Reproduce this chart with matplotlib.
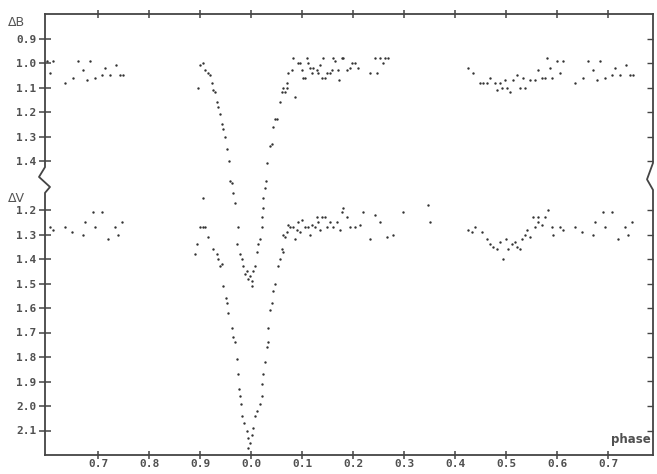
import numpy as np
import matplotlib
matplotlib.use("Agg")
import matplotlib.pyplot as plt

# light curve, phase in [0, 1)
b_phase = [0.425, 0.435, 0.449, 0.455, 0.463, 0.469, 0.478, 0.482, 0.488, 0.492,
           0.498, 0.502, 0.508, 0.514, 0.522, 0.527, 0.533, 0.537, 0.547, 0.557,
           0.563, 0.571, 0.576, 0.580, 0.586, 0.590, 0.600, 0.606, 0.612, 0.635,
           0.651, 0.661, 0.671, 0.678, 0.684, 0.694, 0.708, 0.714, 0.724, 0.735,
           0.743, 0.749,
           0.896, 0.900, 0.906, 0.910, 0.916, 0.920, 0.924, 0.925, 0.929, 0.933,
           0.935, 0.939, 0.943, 0.945, 0.949, 0.953, 0.957, 0.959, 0.963, 0.965,
           0.969, 0.973, 0.975, 0.978, 0.982, 0.984, 0.988, 0.992, 0.994, 0.998,
           0.002, 0.002, 0.004, 0.008, 0.012, 0.014, 0.018, 0.022, 0.022, 0.024,
           0.024, 0.027, 0.029, 0.031, 0.037, 0.041, 0.043, 0.047, 0.051, 0.057,
           0.061, 0.063, 0.067, 0.071, 0.071, 0.073, 0.080, 0.082, 0.086,
           0.092, 0.096, 0.100, 0.102, 0.106, 0.110, 0.112, 0.116, 0.120, 0.122,
           0.129, 0.131, 0.135, 0.139, 0.141, 0.145, 0.149, 0.155, 0.159, 0.161,
           0.165, 0.171, 0.173, 0.178, 0.180, 0.188, 0.194, 0.198, 0.204, 0.210,
           0.233, 0.243, 0.247, 0.253, 0.259, 0.263, 0.269]
b_mag = [1.02, 1.04, 1.08, 1.08, 1.08, 1.06, 1.08, 1.11, 1.08, 1.10,
         1.07, 1.10, 1.12, 1.07, 1.05, 1.10, 1.06, 1.10, 1.07, 1.07,
         1.03, 1.06, 1.06, 0.98, 1.02, 1.06, 0.99, 1.04, 0.99, 1.08,
         1.06, 0.99, 1.03, 1.07, 0.99, 1.06, 1.05, 1.02, 1.05, 1.01,
         1.05, 1.05,
         1.10, 1.01, 1.00, 1.03, 1.04, 1.05, 1.08, 1.11, 1.12, 1.16,
         1.18, 1.21, 1.25, 1.27, 1.30, 1.35, 1.40, 1.48, 1.49, 1.53,
         1.57, 1.74, 1.67, 1.78, 1.80, 1.83, 1.86, 1.85, 1.88, 1.87,
         1.89, 1.91, 1.85, 1.83, 1.77, 1.74, 1.72, 1.67, 1.63, 1.59,
         1.55, 1.51, 1.48, 1.41, 1.34, 1.33, 1.26, 1.23, 1.23, 1.16,
         1.12, 1.10, 1.12, 1.08, 1.10, 1.04, 1.03, 0.98, 1.14,
         1.00, 1.00, 1.03, 1.06, 1.06, 0.98, 1.00, 1.02, 1.04, 1.02,
         1.03, 1.04, 1.01, 1.06, 0.98, 1.06, 1.04, 1.04, 1.03, 0.98,
         0.99, 1.03, 1.07, 0.98, 0.98, 1.03, 1.02, 1.00, 1.00, 1.02,
         1.04, 0.98, 1.04, 0.98, 1.00, 0.98, 0.98]

v_phase = [0.347, 0.351, 0.425, 0.433, 0.439, 0.453, 0.463, 0.469, 0.475, 0.482,
           0.488, 0.494, 0.500, 0.504, 0.512, 0.518, 0.522, 0.527, 0.531, 0.537,
           0.541, 0.547, 0.553, 0.557, 0.563, 0.563, 0.571, 0.576, 0.582, 0.590,
           0.592, 0.606, 0.612, 0.635, 0.649, 0.671, 0.675, 0.690, 0.708, 0.694,
           0.720, 0.733, 0.739, 0.747,
           0.906, 0.890, 0.894, 0.900, 0.906, 0.910, 0.916, 0.925, 0.933, 0.935,
           0.939, 0.943, 0.945, 0.951, 0.953, 0.955, 0.963, 0.965, 0.969, 0.973,
           0.975, 0.976, 0.978, 0.980, 0.982, 0.986, 0.992, 0.994, 0.998, 0.994,
           0.002, 0.004, 0.008, 0.012, 0.018, 0.022, 0.022, 0.024, 0.027, 0.031,
           0.033, 0.033, 0.037, 0.041, 0.043, 0.047, 0.053, 0.057, 0.061, 0.063,
           0.067,
           0.063, 0.071, 0.076, 0.082, 0.086, 0.090, 0.092, 0.100, 0.106, 0.112,
           0.120, 0.125, 0.129, 0.131, 0.139, 0.145, 0.149, 0.155, 0.161, 0.169,
           0.175, 0.178, 0.180, 0.188, 0.194, 0.204, 0.214, 0.220, 0.233, 0.243,
           0.253, 0.267, 0.278, 0.298, 0.073, 0.096, 0.116, 0.135]
v_mag = [1.18, 1.25, 1.28, 1.29, 1.27, 1.29, 1.32, 1.34, 1.35, 1.36,
         1.33, 1.40, 1.32, 1.36, 1.34, 1.33, 1.35, 1.36, 1.32, 1.30,
         1.28, 1.31, 1.23, 1.27, 1.25, 1.23, 1.26, 1.23, 1.20, 1.27,
         1.30, 1.27, 1.28, 1.27, 1.29, 1.30, 1.25, 1.21, 1.21, 1.27,
         1.32, 1.27, 1.30, 1.25,
         1.15, 1.38, 1.34, 1.27, 1.27, 1.27, 1.31, 1.36, 1.38, 1.40,
         1.43, 1.42, 1.51, 1.56, 1.58, 1.62, 1.68, 1.72, 1.74, 1.81,
         1.87, 1.93, 1.96, 1.99, 2.04, 2.07, 2.10, 2.13, 2.15, 2.17,
         2.12, 2.09, 2.04, 2.02, 1.99, 1.96, 1.91, 1.87, 1.82, 1.76,
         1.74, 1.68, 1.61, 1.58, 1.53, 1.50, 1.43, 1.40, 1.36, 1.37,
         1.31,
         1.30, 1.29, 1.27, 1.27, 1.32, 1.28, 1.25, 1.24, 1.27, 1.27,
         1.26, 1.27, 1.23, 1.25, 1.23, 1.23, 1.27, 1.25, 1.27, 1.25,
         1.28, 1.21, 1.19, 1.23, 1.27, 1.27, 1.26, 1.21, 1.32, 1.22,
         1.25, 1.31, 1.30, 1.21, 1.26, 1.29, 1.30, 1.28]

b_ticks = [0.9, 1.0, 1.1, 1.2, 1.3, 1.4]
v_ticks = [1.2, 1.3, 1.4, 1.5, 1.6, 1.7, 1.8, 1.9, 2.0, 2.1]
x_ticks = [-0.3, -0.2, -0.1, 0.0, 0.1, 0.2, 0.3, 0.4, 0.5, 0.6, 0.7]

B_SHIFT = 0.40          # B curve drawn above V on the same axis
XMIN, XMAX = -0.404, 0.788
YTOP, YBOT = 0.40, 2.20
INK = "#444444"


def unfold(phase, mag):
    """Put every point where it falls in the plotted phase window (repeated)."""
    phase = np.asarray(phase)
    mag = np.asarray(mag)
    xs = np.concatenate([phase, phase - 1.0])
    ys = np.concatenate([mag, mag])
    keep = (xs >= XMIN) & (xs <= XMAX)
    return xs[keep], ys[keep]


fig = plt.figure(figsize=(6.57, 4.74), dpi=100)
ax = fig.add_axes([45 / 657, 19 / 474, 608 / 657, 441 / 474])

bx, by = unfold(b_phase, b_mag)
vx, vy = unfold(v_phase, v_mag)
ax.scatter(bx, by - B_SHIFT, s=3, color="#333333", linewidths=0)
ax.scatter(vx, vy, s=3, color="#333333", linewidths=0)

ax.set_xlim(XMIN, XMAX)
ax.set_ylim(YBOT, YTOP)

ax.set_xticks(x_ticks)
ax.set_xticklabels([f"{t % 1:.1f}" for t in x_ticks])
ax.set_yticks([t - B_SHIFT for t in b_ticks] + v_ticks)
ax.set_yticklabels([f"{t:.1f}" for t in b_ticks] + [f"{t:.1f}" for t in v_ticks])

lab = dict(family="DejaVu Sans Mono", weight="bold", size=8)
for t in ax.get_xticklabels() + ax.get_yticklabels():
    t.set_fontproperties(matplotlib.font_manager.FontProperties(**lab))
    t.set_color("#505050")

ax.tick_params(axis="y", direction="inout", length=8, width=1.1,
               color=INK, pad=2)
ax.tick_params(axis="x", direction="inout", length=6, width=1.1,
               color=INK, top=True, pad=0)

# right side: inward ticks only
ax2 = ax.twinx()
ax2.set_ylim(YBOT, YTOP)
ax2.set_yticks([t - B_SHIFT for t in b_ticks] + v_ticks)
ax2.set_yticklabels([])
ax2.tick_params(axis="y", direction="in", length=4, width=1.0, color=INK)
for s in ax2.spines.values():
    s.set_visible(False)

# spines, with a break between the B and V scales
for name in ["top", "bottom"]:
    ax.spines[name].set_color(INK)
    ax.spines[name].set_linewidth(1.3)
ax.spines["left"].set_visible(False)
ax.spines["right"].set_visible(False)

tr = ax.get_yaxis_transform()
dx = 1 / 608
ax.plot([0, 0, -6 * dx, 5 * dx, 0, 0], [YTOP, 1.025, 1.065, 1.106, 1.13, YBOT],
        transform=tr, color=INK, lw=1.3, clip_on=False)
ax.plot([1, 1, 1 - 6 * dx, 1, 1], [YTOP, 1.008, 1.075, 1.118, YBOT],
        transform=tr, color=INK, lw=1.3, clip_on=False)

fig.text(8 / 657, 1 - 23 / 474, "ΔB", fontsize=9, color="#555555", va="center")
fig.text(8 / 657, 1 - 199 / 474, "ΔV", fontsize=9, color="#555555", va="center")
ax.text(0.997, 0.035, "phase", transform=ax.transAxes, ha="right", va="center",
        family="DejaVu Sans", weight="bold", size=8.5, color="#505050")

fig.savefig("out.png", dpi=100, facecolor="white")
